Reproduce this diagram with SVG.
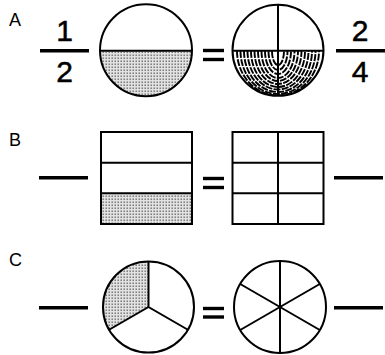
<svg xmlns="http://www.w3.org/2000/svg" width="385" height="355" viewBox="0 0 385 355">
<style>
.o{fill:none;stroke:#000;stroke-width:2}
.bar{stroke:#000;stroke-width:3.4;fill:none}
.lbl{font-family:"Liberation Sans",Arial,sans-serif;font-size:18px;fill:#000}
.num{font-family:"Liberation Sans",Arial,sans-serif;font-size:30px;fill:#000;text-anchor:middle;stroke:#000;stroke-width:0.5}
.h{fill:none;stroke:#000;stroke-width:1.9;stroke-dasharray:7 1.3}
</style>
<defs>
<pattern id="dots" width="3" height="3" patternUnits="userSpaceOnUse">
<rect width="3" height="3" fill="#e2e2e2"/>
<rect x="0.5" y="0.5" width="1.4" height="1.4" fill="#6a6a6a"/>
</pattern>
<clipPath id="lowA"><path d="M232.5,50.3 A45.5,45.5 0 0,0 323.5,50.3 Z"/></clipPath>
</defs>
<g id="labels">
<text class="lbl" x="9" y="26">A</text>
<text class="lbl" x="9" y="145.5">B</text>
<text class="lbl" x="9" y="265.5">C</text>
</g>
<g id="fracA1">
<text class="num" x="64.5" y="41">1</text>
<line class="bar" x1="40" y1="50.7" x2="89" y2="50.7"/>
<text class="num" x="64.5" y="82">2</text>
</g>
<g id="circleA1">
<path d="M100,50.3 A46,46 0 0,0 192,50.3 Z" fill="url(#dots)"/>
<circle class="o" cx="146" cy="50.3" r="46"/>
<line class="o" x1="100" y1="50.7" x2="192" y2="50.7"/>
</g>
<g id="eqA">
<line class="bar" x1="203" y1="50.5" x2="224" y2="50.5" stroke-width="3"/>
<line class="bar" x1="203" y1="59.5" x2="224" y2="59.5" stroke-width="3"/>
</g>
<g id="circleA2">
<g clip-path="url(#lowA)">
<path class="h" d="M272,51 A6,14 0 0,0 284,51"/>
<path class="h" d="M268.5,51 A9.5,19 0 0,0 287.5,51"/>
<path class="h" d="M265,51 A13,23 0 0,0 291,51"/>
<path class="h" d="M261.5,51 A16.5,27 0 0,0 294.5,51"/>
<path class="h" d="M258,51 A20,30 0 0,0 298,51"/>
<path class="h" d="M254.5,51 A23.5,33 0 0,0 301.5,51"/>
<path class="h" d="M251,51 A27,36 0 0,0 305,51"/>
<path class="h" d="M247.5,51 A30.5,38.5 0 0,0 308.5,51"/>
<path class="h" d="M244,51 A34,41 0 0,0 312,51"/>
<path class="h" d="M240.5,51 A37.5,43 0 0,0 315.5,51"/>
<path class="h" d="M237,51 A41,44.5 0 0,0 319,51"/>
</g>
<circle class="o" cx="278" cy="50.3" r="45.5"/>
<line class="o" x1="232.5" y1="50.7" x2="323.5" y2="50.7"/>
<line class="o" x1="278" y1="4.8" x2="278" y2="95.8"/>
</g>
<g id="fracA2">
<text class="num" x="360" y="41">2</text>
<line class="bar" x1="336" y1="50.7" x2="385" y2="50.7"/>
<text class="num" x="360" y="82">4</text>
</g>
<g id="blankB1"><line class="bar" x1="39" y1="177.7" x2="88" y2="177.7"/></g>
<g id="rectB1">
<rect x="101" y="193.3" width="91" height="30.7" fill="url(#dots)"/>
<rect class="o" x="101" y="132" width="91" height="92"/>
<line class="o" x1="101" y1="162.7" x2="192" y2="162.7"/>
<line class="o" x1="101" y1="193.3" x2="192" y2="193.3"/>
</g>
<g id="eqB">
<line class="bar" x1="203" y1="178.5" x2="224" y2="178.5" stroke-width="3"/>
<line class="bar" x1="203" y1="187.5" x2="224" y2="187.5" stroke-width="3"/>
</g>
<g id="rectB2">
<rect class="o" x="232.5" y="132" width="91" height="92"/>
<line class="o" x1="278" y1="132" x2="278" y2="224"/>
<line class="o" x1="232.5" y1="162.7" x2="323.5" y2="162.7"/>
<line class="o" x1="232.5" y1="193.3" x2="323.5" y2="193.3"/>
</g>
<g id="blankB2"><line class="bar" x1="334" y1="177.7" x2="383" y2="177.7"/></g>
<g id="blankC1"><line class="bar" x1="39" y1="307.7" x2="88" y2="307.7"/></g>
<g id="circleC1">
<path d="M148.5,307 L148.5,261.5 A45.5,45.5 0 0,0 109.1,329.75 Z" fill="url(#dots)"/>
<circle class="o" cx="148.5" cy="307" r="45.5"/>
<polyline class="o" points="148.5,261.5 148.5,307 187.9,329.75"/>
<line class="o" x1="148.5" y1="307" x2="109.1" y2="329.75"/>
</g>
<g id="eqC">
<line class="bar" x1="203" y1="308.5" x2="224" y2="308.5" stroke-width="3"/>
<line class="bar" x1="203" y1="317" x2="224" y2="317" stroke-width="3"/>
</g>
<g id="circleC2">
<circle class="o" cx="280" cy="307" r="46"/>
<line class="o" x1="280" y1="261" x2="280" y2="353"/>
<line class="o" x1="240.2" y1="284" x2="319.8" y2="330"/>
<line class="o" x1="240.2" y1="330" x2="319.8" y2="284"/>
</g>
<g id="blankC2"><line class="bar" x1="334" y1="307.7" x2="383" y2="307.7"/></g>
</svg>
